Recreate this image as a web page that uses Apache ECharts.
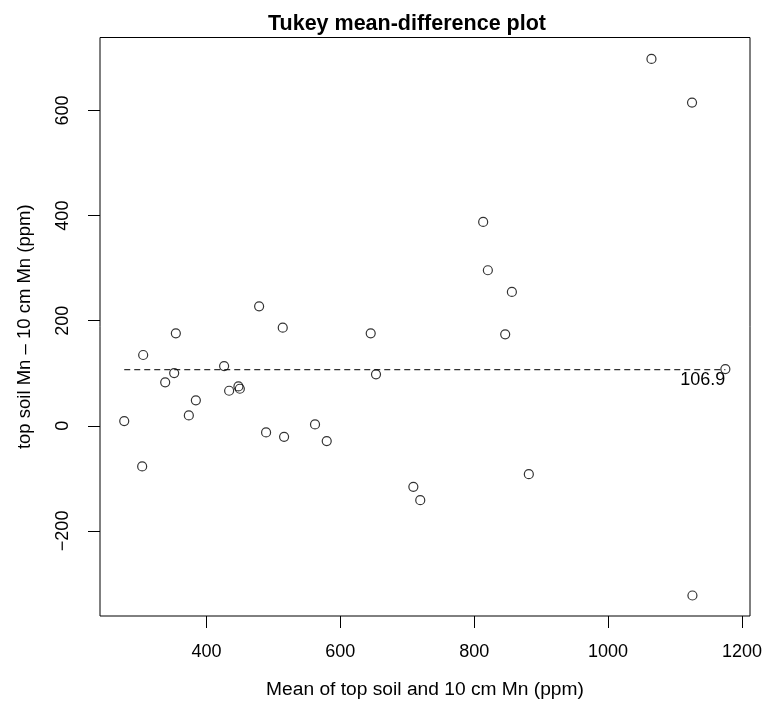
<!DOCTYPE html>
<html>
<head>
<meta charset="utf-8">
<script src="https://cdn.jsdelivr.net/npm/echarts@6/dist/echarts.min.js"></script>
<style>
html,body{margin:0;padding:0;background:#fff;}
#chart{width:766px;height:709px;}
</style>
</head>
<body>
<div id="chart"></div>
<script>
// Mean of the two measurements (x) and their difference (y)
var meanValues = [478.7, 514, 354.3, 305.5, 426.4, 351.8, 338.4, 447.8, 449.9, 433.9,
  384.2, 373.7, 277.2, 562.2, 489.1, 516, 579.7, 304, 645.4, 653.3,
  846.3, 881.6, 709.1, 719.4, 813.4, 820.4, 856.3, 1175.2, 1064.8, 1125.4, 1126];
var diffValues = [227.4, 186.7, 176, 134.7, 113.7, 100.4, 82.7, 75, 70.5, 66.7,
  48.4, 19.8, 9, 2.7, -12.6, -20.9, -29.1, -77.3, 176, 97.9,
  174.1, -92, -116.2, -141.5, 388, 296, 254.7, 108, 698.3, 615.2, -323];
var meanDiff = 106.9;
var xTicks = [400, 600, 800, 1000, 1200];
var yTicks = [-200, 0, 200, 400, 600];

var points = meanValues.map(function (x, i) { return [x, diffValues[i]]; });
var xMinData = Math.min.apply(null, meanValues);
var xMaxData = Math.max.apply(null, meanValues);

var FONT = '"Liberation Sans", Arial, Helvetica, sans-serif';
function fmt(v) { return v < 0 ? '\u2212' + Math.abs(v) : String(v); }

var chart = echarts.init(document.getElementById('chart'), null, {renderer: 'canvas'});
chart.setOption({
  backgroundColor: '#fff',
  animation: false,
  title: {
    text: 'Tukey mean-difference plot',
    left: 263,
    top: 8,
    textStyle: {fontFamily: FONT, fontSize: 21.5, fontWeight: 'bold', color: '#000'}
  },
  grid: {
    left: 100, right: 16, top: 37.5, bottom: 93,
    show: true, borderColor: '#000', borderWidth: 1, backgroundColor: 'transparent'
  },
  xAxis: {
    type: 'value',
    min: 241, max: 1212,
    name: 'Mean of top soil and 10 cm Mn (ppm)',
    nameLocation: 'middle',
    nameGap: 64,
    nameTextStyle: {fontFamily: FONT, fontSize: 19.2, color: '#000'},
    axisLine: {show: false, onZero: false},
    splitLine: {show: false},
    axisTick: {show: true, customValues: xTicks, length: 12, lineStyle: {color: '#000', width: 1}},
    axisLabel: {customValues: xTicks, fontFamily: FONT, fontSize: 18, color: '#000', margin: 27, formatter: fmt}
  },
  yAxis: {
    type: 'value',
    min: -362, max: 739,
    name: 'top soil Mn \u2013 10 cm Mn (ppm)',
    nameLocation: 'middle',
    nameGap: 66,
    nameTextStyle: {fontFamily: FONT, fontSize: 18.5, color: '#000'},
    axisLine: {show: false, onZero: false},
    splitLine: {show: false},
    axisTick: {show: true, customValues: yTicks, length: 12, lineStyle: {color: '#000', width: 1}},
    axisLabel: {customValues: yTicks, rotate: 90, fontFamily: FONT, fontSize: 18, color: '#000', margin: 28, formatter: fmt}
  },
  series: [
    {
      type: 'line',
      data: [[xMinData, meanDiff], [xMaxData, meanDiff]],
      symbol: 'none',
      lineStyle: {color: '#333', width: 1.2, type: [6, 4]},
      silent: true,
      endLabel: {
        show: true,
        formatter: String(meanDiff),
        align: 'right', verticalAlign: 'top',
        distance: 0, offset: [0, 1],
        fontFamily: FONT, fontSize: 18, color: '#000'
      },
      z: 1
    },
    {
      type: 'scatter',
      data: points,
      symbol: 'circle',
      symbolSize: 9,
      itemStyle: {color: 'rgba(255,255,255,0)', borderColor: '#000', borderWidth: 1.2},
      z: 3
    }
  ]
});
</script>
</body>
</html>
